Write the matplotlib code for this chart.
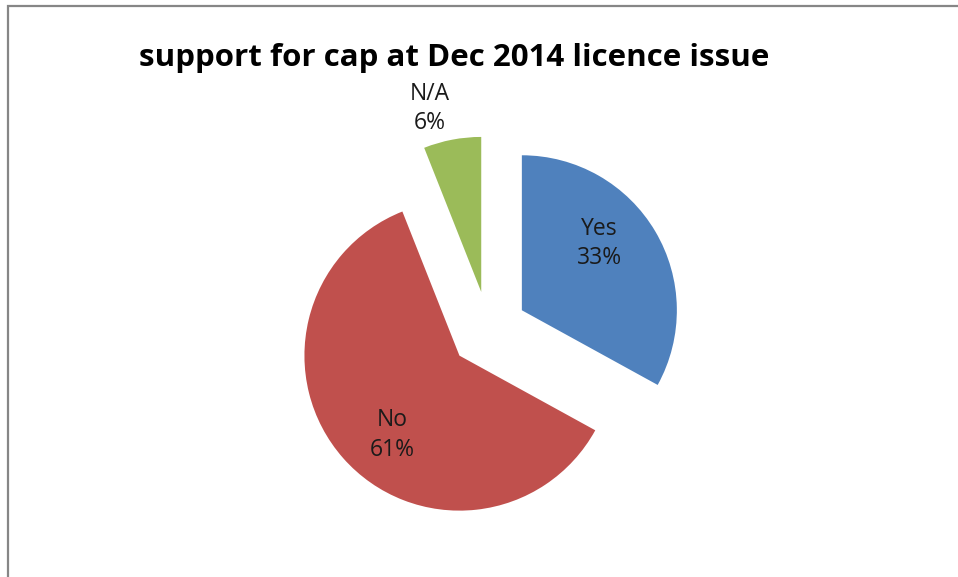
import numpy as np
import matplotlib
matplotlib.use("Agg")
import matplotlib.pyplot as plt
from matplotlib.patches import Rectangle

# data
labels = ["Yes", "No", "N/A"]
shares = [33, 61, 6]
colors = ["#4F81BD", "#C0504D", "#9BBB59"]
title = "support for cap at Dec 2014 licence issue"

W, H = 958, 577
fig = plt.figure(figsize=(W / 100, H / 100), dpi=100)
ax = fig.add_axes([0, 0, 1, 1])

# chart frame (left and top edges visible)
ax.add_patch(Rectangle((8.5, -20), W + 40, H - 6 + 20, fill=False,
                       edgecolor="#868686", linewidth=1.6))

cx, cy, radius = 488.5, H - 330, 155
explode = 0.25 * radius  # pie() takes an absolute offset
wedges, _ = ax.pie(shares, colors=colors, startangle=90, counterclock=False,
                   explode=[explode] * len(shares), center=(cx, cy),
                   radius=radius, wedgeprops=dict(linewidth=0), frame=True)
ax.set_xlim(0, W)
ax.set_ylim(0, H)
ax.set_aspect("equal")
ax.axis("off")

# label placement: (angle offset from wedge middle in degrees, radius fraction)
label_pos = [(10, 0.66), (8.5, 0.67), (5, 1.23)]
for w, lab, val, (doff, frac) in zip(wedges, labels, shares, label_pos):
    mid = np.deg2rad((w.theta1 + w.theta2) / 2)
    ox, oy = w.center
    ang = mid + np.deg2rad(doff)
    tx = ox + frac * radius * np.cos(ang)
    ty = oy + frac * radius * np.sin(ang)
    ax.text(tx, ty, f"{lab}\n{val}%", ha="center", va="center",
            fontsize=16.5, family="Open Sans", color="#1a1a1a", linespacing=1.3)

ax.text(454, H - 58, title, ha="center", va="center", fontsize=22.5,
        family="Open Sans", fontweight="bold", color="black")

fig.savefig("out.png", dpi=100)
